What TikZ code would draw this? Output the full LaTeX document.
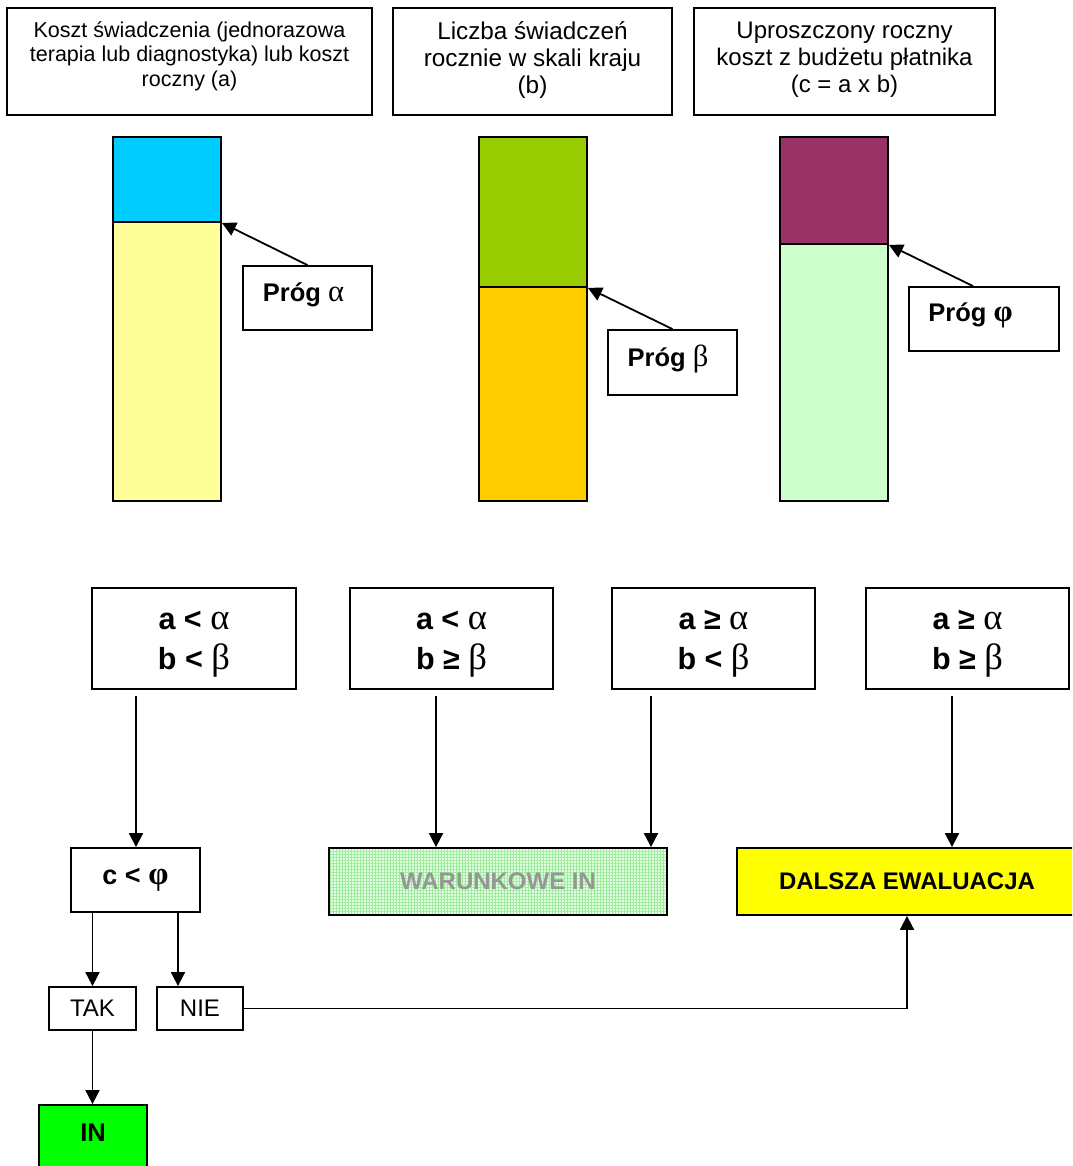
\documentclass[tikz,border=0pt]{standalone}
\usepackage{fontspec}
\setmainfont{Liberation Sans}
\newfontfamily\grk[Scale=1.2]{Liberation Serif}
\usetikzlibrary{arrows.meta,patterns.meta}

\definecolor{cyanA}{HTML}{00CCFF}
\definecolor{paleY}{HTML}{FFFF99}
\definecolor{oliveG}{HTML}{99CC00}
\definecolor{goldY}{HTML}{FFCC00}
\definecolor{plum}{HTML}{993366}
\definecolor{mint}{HTML}{CCFFCC}
\definecolor{brightG}{HTML}{00FF00}
\definecolor{brightY}{HTML}{FFFF00}
\definecolor{grayT}{HTML}{969696}
\definecolor{gridBg}{HTML}{E0FFE0}
\definecolor{gridLn}{HTML}{9CEC9C}

\tikzset{
  box/.style 2 args={draw=black, line width=1.8pt, inner sep=0pt,
    minimum width=#1pt, minimum height=#2pt},
  barpart/.style={draw=black, line width=1.8pt, inner sep=0pt, minimum width=108pt},
  arr/.style={line width=1.8pt, -{Triangle[length=14pt,width=14pt]}},
  htext/.style={align=center, inner sep=0pt},
  cond/.style={align=center, inner sep=0pt, font=\bfseries\fontsize{30.5}{40}\selectfont},
  lbl/.style={inner sep=0pt, font=\bfseries\fontsize{25.5}{28}\selectfont},
}

\begin{document}
\begin{tikzpicture}[x=1pt,y=-1pt]
\clip (0,0) rectangle (1072,1166);
\fill[white] (0,0) rectangle (1072,1166);

% column headers
\node[box={365}{107}] (h1) at (189.5,61.5) {};
\node[htext, font=\fontsize{21.5}{24.5}\selectfont] (h1t) at (189.5,56)
  {Koszt świadczenia (jednorazowa\\terapia lub diagnostyka) lub koszt\\roczny (a)};
\node[box={279}{107}] (h2) at (532.5,61.5) {};
\node[htext, font=\fontsize{24.3}{27}\selectfont] (h2t) at (532.5,60)
  {Liczba świadczeń\\rocznie w skali kraju\\(b)};
\node[box={301}{107}] (h3) at (844.5,61.5) {};
\node[htext, font=\fontsize{24}{27}\selectfont] (h3t) at (844.5,60)
  {Uproszczony roczny\\koszt z budżetu płatnika\\(c = a x b)};

% threshold bars
\node[barpart, fill=cyanA, minimum height=85pt] (a1) at (167,179.5) {};
\node[barpart, fill=paleY, minimum height=279pt] (a2) at (167,361.5) {};
\node[barpart, fill=oliveG, minimum height=150pt] (b1) at (533,212) {};
\node[barpart, fill=goldY, minimum height=214pt] (b2) at (533,394) {};
\node[barpart, fill=plum, minimum height=107pt] (f1) at (834,190.5) {};
\node[barpart, fill=mint, minimum height=257pt] (f2) at (834,372.5) {};

% threshold labels
\node[box={129}{64}] (pa) at (307.5,298) {};
\node[lbl] (pat) at (303.5,294.5) {Próg {\mdseries\grk α}};
\node[box={129}{65}] (pb) at (672.5,362.5) {};
\node[lbl] (pbt) at (668,359) {Próg {\mdseries\grk β}};
\node[box={150}{64}] (pf) at (984,319) {};
\node[lbl] (pft) at (970.5,315) {Próg {\grk φ}};

\draw[arr] (pa.north) -- (a1.south east);
\draw[arr] (pb.north) -- (b1.south east);
\draw[arr] ([xshift=-11pt]pf.north) -- (f1.south east);

% condition boxes
\node[box={204}{101}] (c1) at (194,638.5) {};
\node[cond] (c1t) at (194,644) {a < {\mdseries\grk α}\\b < {\mdseries\grk β}};
\node[box={203}{101}] (c2) at (451.5,638.5) {};
\node[cond] (c2t) at (451.5,644) {a < {\mdseries\grk α}\\b ≥ {\mdseries\grk β}};
\node[box={203}{101}] (c3) at (713.5,638.5) {};
\node[cond] (c3t) at (713.5,644) {a ≥ {\mdseries\grk α}\\b < {\mdseries\grk β}};
\node[box={203}{101}] (c4) at (967.5,638.5) {};
\node[cond] (c4t) at (967.5,644) {a ≥ {\mdseries\grk α}\\b ≥ {\mdseries\grk β}};

% outcome boxes
\node[box={129}{64}, font=\bfseries\fontsize{27}{30}\selectfont] (cf) at (135.5,880) {c < {\grk φ}};
\node[box={338}{67}, fill=gridBg,
  postaction={pattern={Lines[angle=0,distance=3pt,line width=0.6pt]}, pattern color=gridLn},
  postaction={pattern={Lines[angle=90,distance=3pt,line width=0.6pt]}, pattern color=gridLn}]
  (w) at (498,881.5) {};
\node[draw=black, line width=1.8pt, inner sep=0pt, minimum width=338pt, minimum height=67pt,
  text=grayT, font=\bfseries\fontsize{24}{28}\selectfont] (wt) at (498,881.5) {WARUNKOWE IN};
\node[box={340}{67}, fill=brightY, font=\bfseries\fontsize{24}{28}\selectfont] (dal) at (907,881.5) {DALSZA EWALUACJA};
\node[box={87}{43}, font=\fontsize{24}{26}\selectfont] (tak) at (92.5,1008.5) {TAK};
\node[box={86}{43}, font=\fontsize{24}{26}\selectfont] (nie) at (200,1008.5) {NIE};
\node[box={108}{70}, fill=brightG] (in) at (93,1140) {};
\node[lbl] (int) at (93,1132.5) {IN};

% connectors
\draw[arr] ([xshift=-58pt,yshift=-6pt]c1.south) -- ([xshift=-58pt]c1.south |- cf.north);
\draw[arr] ([xshift=-15.5pt,yshift=-6pt]c2.south) -- ([xshift=-15.5pt]c2.south |- w.north);
\draw[arr] ([xshift=-62.5pt,yshift=-6pt]c3.south) -- ([xshift=-62.5pt]c3.south |- w.north);
\draw[arr] ([xshift=-15.5pt,yshift=-6pt]c4.south) -- ([xshift=-15.5pt]c4.south |- dal.north);
\draw[arr] (tak.north |- cf.south) -- (tak.north);
\draw[arr] ([xshift=-22pt]nie.north |- cf.south) -- ([xshift=-22pt]nie.north);
\draw[arr] (tak.south) -- (tak.south |- in.north);
\draw[arr] (nie.east) -| (dal.south);
\end{tikzpicture}
\end{document}
